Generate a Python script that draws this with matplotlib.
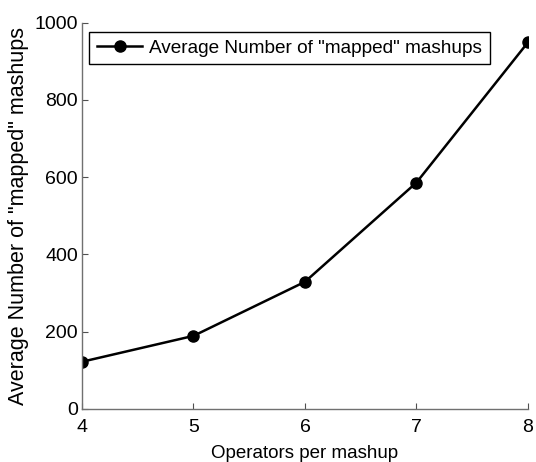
import matplotlib
matplotlib.use("Agg")
import matplotlib.pyplot as plt

operators = [4, 5, 6, 7, 8]
mapped_mashups = [122, 189, 329, 586, 949]

plt.rcParams['font.family'] = ['Liberation Sans', 'DejaVu Sans']

fig = plt.figure(figsize=(5.36, 4.62), dpi=100)
ax = fig.add_axes([0.153, 0.115, 0.832, 0.836])

ax.plot(operators, mapped_mashups, color='black', linewidth=1.8, marker='o',
        markersize=8, label='Average Number of "mapped" mashups')

ax.set_xlim(4, 8)
ax.set_ylim(0, 1000)
ax.set_xticks(operators)
ax.set_yticks([0, 200, 400, 600, 800, 1000])

for side in ['top', 'right']:
    ax.spines[side].set_visible(False)
for side in ['left', 'bottom']:
    ax.spines[side].set_color('#707070')
    ax.spines[side].set_linewidth(1.0)
ax.tick_params(direction='in', length=4, color='#505050', labelsize=14)
ax.tick_params(axis='x', pad=7)
ax.tick_params(axis='y', pad=3)

ax.set_xlabel('Operators per mashup', fontsize=13.5, labelpad=7)
ax.set_ylabel('Average Number of "mapped" mashups', fontsize=15.5, labelpad=4)

leg = ax.legend(loc='upper left', fontsize=13.7, fancybox=False, framealpha=1,
                edgecolor='black', borderpad=0.4, handlelength=2.4,
                handletextpad=0.35, borderaxespad=0, bbox_to_anchor=(0.016, 0.976))
leg.get_frame().set_linewidth(1.0)

fig.savefig('out.png', dpi=100)
